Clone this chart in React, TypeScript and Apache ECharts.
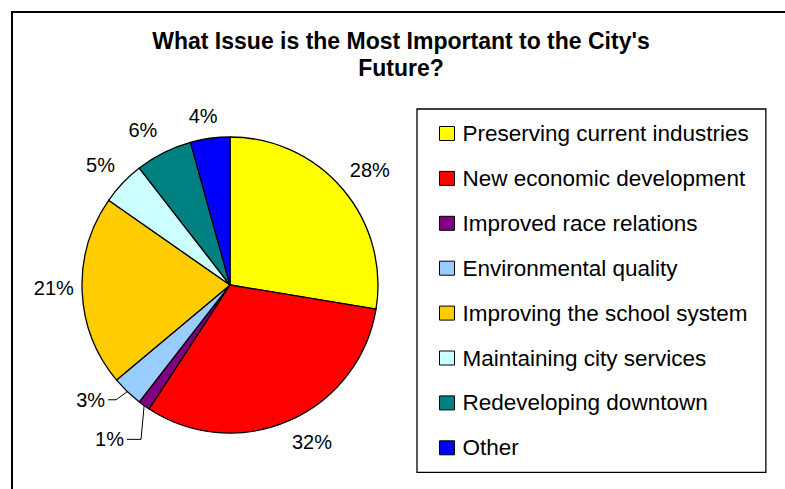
import React, { useEffect, useRef } from "react";
import * as echarts from "echarts";

// ---- data ----
const categories = [
  "Preserving current industries",
  "New economic development",
  "Improved race relations",
  "Environmental quality",
  "Improving the school system",
  "Maintaining city services",
  "Redeveloping downtown",
  "Other",
];
const values = [27.6, 31.6, 1.3, 3.4, 20.8, 4.8, 6.2, 4.3];
const colors = ["#FFFF00", "#FF0000", "#800080", "#99CCFF", "#FFCC00", "#CCFFFF", "#008080", "#0000FF"];
const titleText = "What Issue is the Most Important to the City's\nFuture?";

// ---- layout / style ----
const CX = 230;
const CY = 285;
const R = 148;
const FONT = 'Arial, "Liberation Sans", Helvetica, sans-serif';
// per-slice label placement tweaks (radial extra px, angular shift deg, leader length px or 0)
const labelTweaks = [
  { extra: 0, shift: 1, leader: 0 },
  { extra: 0, shift: -3.8, leader: 0 },
  { extra: 20, shift: 2.5, leader: 17 },
  { extra: 4, shift: 6.6, leader: 11 },
  { extra: -3, shift: 1.4, leader: 0 },
  { extra: 0, shift: -0.8, leader: 0 },
  { extra: 3, shift: -2.7, leader: 0 },
  { extra: 0, shift: -1.3, leader: 0 },
];

function midAngle(i: number): number {
  const total = values.reduce((a, b) => a + b, 0);
  let before = 0;
  for (let k = 0; k < i; k++) before += values[k];
  return ((before + values[i] / 2) / total) * Math.PI * 2;
}

export default function App() {
  const ref = useRef<HTMLDivElement>(null);
  useEffect(() => {
    if (!ref.current) return;
    const chart = echarts.init(ref.current, undefined, { renderer: "svg" });
    chart.setOption({
      animation: false,
      backgroundColor: "#ffffff",
      title: {
        text: titleText,
        left: 401,
        top: 27,
        padding: 0,
        textAlign: "center",
        textStyle: {
          fontFamily: FONT,
          fontSize: 23,
          fontWeight: "bold",
          color: "#000",
          lineHeight: 27,
        },
      },
      legend: {
        orient: "vertical",
        left: 417,
        top: 109,
        padding: [13, 17, 13, 22],
        itemGap: 21.9,
        itemWidth: 15,
        itemHeight: 14,
        icon: "rect",
        borderColor: "#000",
        borderWidth: 1.3,
        itemStyle: { borderColor: "#000", borderWidth: 1 },
        textStyle: {
          fontFamily: FONT,
          fontSize: 22.5,
          color: "#000",
          padding: [0, 0, 0, 3],
        },
        data: categories,
      },
      graphic: [
        {
          type: "rect",
          shape: { x: 12, y: 12, width: 900, height: 600 },
          style: { fill: "none", stroke: "#000", lineWidth: 2 },
          silent: true,
        },
      ],
      series: [
        {
          type: "pie",
          center: [CX, CY],
          radius: R,
          startAngle: 90,
          clockwise: true,
          avoidLabelOverlap: false,
          itemStyle: { borderColor: "#000", borderWidth: 1.3 },
          label: {
            show: true,
            position: "outside",
            fontFamily: FONT,
            fontSize: 20,
            color: "#000",
            formatter: (p: any) => `${Math.round(p.percent)}%`,
          },
          labelLine: { show: false, lineStyle: { color: "#000", width: 1 } },
          emphasis: { disabled: true },
          labelLayout: (params: any) => {
            const i = params.dataIndex;
            const tw = labelTweaks[i];
            const w = params.labelRect.width;
            const h = 20;
            const t = midAngle(i) + (tw.shift * Math.PI) / 180;
            const s = Math.sin(t);
            const c = Math.cos(t);
            const dist = R + 11 + (w / 2) * Math.abs(s) + (h / 2) * Math.abs(c) + tw.extra;
            const x = CX + dist * s;
            const y = CY - dist * c;
            const out: any = { x, y, align: "center", verticalAlign: "middle" };
            if (tw.leader) {
              const a = midAngle(i);
              const ax = CX + R * Math.sin(a);
              const ay = CY - R * Math.cos(a);
              const right = x + w / 2;
              out.labelLinePoints = [
                [ax, ay],
                [right + tw.leader, y],
                [right + 3, y],
              ];
            }
            return out;
          },
          data: categories.map((name, i) => ({
            name,
            value: values[i],
            itemStyle: { color: colors[i] },
            labelLine: labelTweaks[i].leader ? { show: true } : { show: false },
          })),
        },
      ],
    });
    return () => chart.dispose();
  }, []);
  return (
    <div
      ref={ref}
      style={{ position: "absolute", left: 0, top: 0, width: 785, height: 489 }}
    />
  );
}
